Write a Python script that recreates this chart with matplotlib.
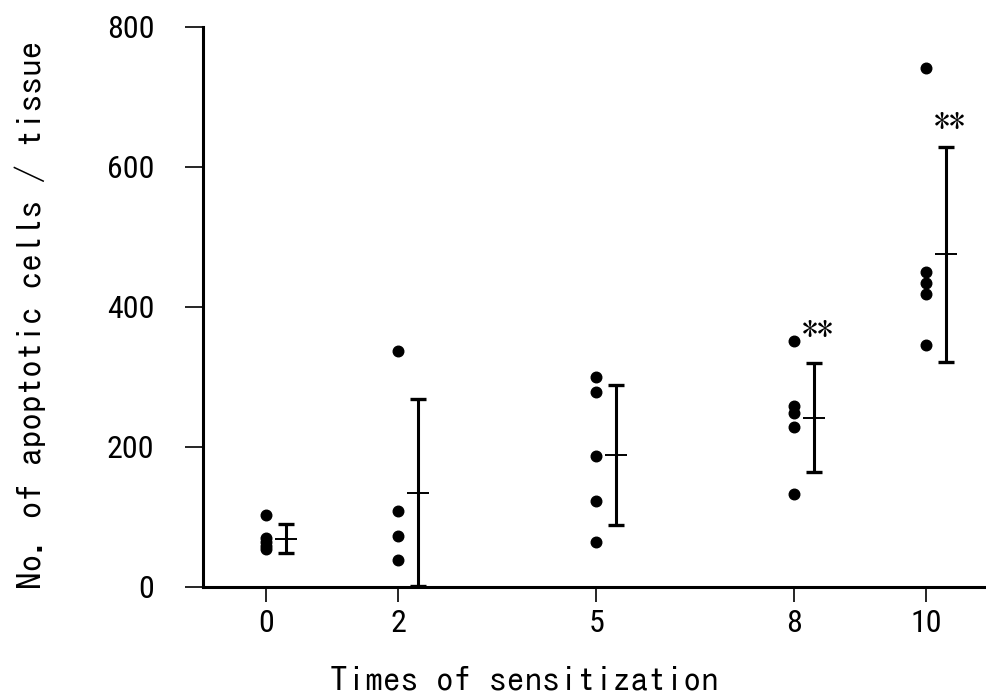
import matplotlib
matplotlib.use("Agg")
import matplotlib.pyplot as plt

# ---- data ----
groups = [0, 2, 5, 8, 10]
points = {
    0: [103, 70, 64, 58, 54],
    2: [337, 109, 73, 39],
    5: [300, 279, 187, 123, 64],
    8: [351, 259, 249, 229, 133],
    10: [741, 450, 434, 419, 346],
}
means = [69, 135, 189, 242, 475]
errs = [21, 134, 100, 78, 153]
sig_groups = [8, 10]
sig_labels = ["**", "**"]
sig_y = [369, 666]

xlabel = "Times of sensitization"
ylabel = "No. of apoptotic cells / tissue"
yticks = [0, 200, 400, 600, 800]

# ---- figure ----
fig = plt.figure(figsize=(9.86, 7.0), dpi=100)
ax = fig.add_axes([203 / 986, 1 - 587 / 700, (985 - 203) / 986, (587 - 27) / 700])

font = ["IPAGothic", "DejaVu Sans"]
tick_font = ["Roboto Condensed", "PT Sans Narrow", "DejaVu Sans"]

offset = 0.3
for g in groups:
    ys = points[g]
    ax.plot([g] * len(ys), ys, "o", color="black", markersize=7.6, linestyle="none",
            clip_on=False, zorder=3)

ex = [g + offset for g in groups]
ax.errorbar(ex, means, yerr=errs, fmt="none", ecolor="black", elinewidth=2.2,
            capsize=6, capthick=2.4, clip_on=False, zorder=3)
# mean markers (horizontal lines)
ax.plot(ex, means, linestyle="none", marker="_", markersize=16, markeredgewidth=1.4,
        color="black", clip_on=False, zorder=4)

for g, lab, yv in zip(sig_groups, sig_labels, sig_y):
    ax.text(g + 0.35, yv, lab, ha="center", va="center", fontsize=23,
            family=font, color="black")

ax.set_xlim(-0.955, 10.89)
ax.set_ylim(0, 800)
ax.set_xticks(groups)
ax.set_xticklabels([str(g) for g in groups])
ax.set_yticks(yticks)
ax.set_yticklabels([str(v) for v in yticks])

for side in ["top", "right"]:
    ax.spines[side].set_visible(False)
for side in ["left", "bottom"]:
    ax.spines[side].set_linewidth(2.2)
    ax.spines[side].set_color("black")

ax.tick_params(axis="y", direction="out", length=13, width=1.2, pad=22)
ax.tick_params(axis="x", direction="out", length=11, width=1.2, pad=5)
for lbl in ax.get_xticklabels() + ax.get_yticklabels():
    lbl.set_fontfamily(tick_font)
    lbl.set_fontsize(23)

fig.text(524 / 986, 1 - 680 / 700, xlabel, ha="center", va="center",
         fontsize=25.5, family=font)
fig.text(30 / 986, 1 - 315 / 700, ylabel, ha="center", va="center",
         rotation=90, fontsize=25.5, family=font)

fig.savefig("out.png", dpi=100)
